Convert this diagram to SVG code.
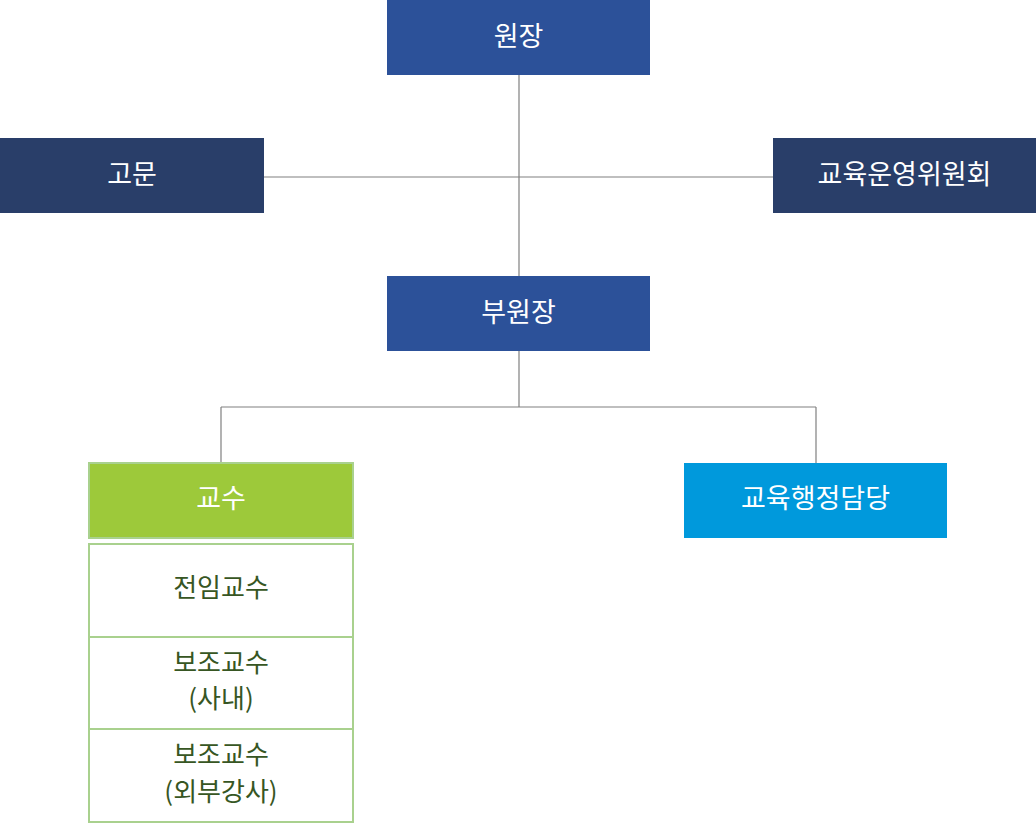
<svg xmlns="http://www.w3.org/2000/svg" width="1036" height="828" viewBox="0 0 1036 828">
<style>
text{font-family:"Noto Sans CJK KR","Noto Sans",sans-serif;font-size:27px;text-anchor:middle;dominant-baseline:central}
.w{fill:#ffffff}
.g{fill:#375623;font-size:26px}
.ln{stroke:#808080;stroke-width:1.2;fill:none}
.sub{fill:#ffffff;stroke:#a9d18e;stroke-width:2}
</style>
<rect width="1036" height="828" fill="#ffffff"/>
<g id="connectors">
<path class="ln" d="M519,75 V276 M264,177 H773"/>
<path class="ln" d="M519,351 V407 M221,407 H816 M221,407 V462 M816,407 V463"/>
</g>
<g id="n-wonjang"><rect x="387" y="0" width="263" height="75" fill="#2c5199"/><text class="w" x="518.5" y="34">원장</text></g>
<g id="n-gomun"><rect x="0" y="138" width="264" height="75" fill="#293e69"/><text class="w" x="132" y="172">고문</text></g>
<g id="n-committee"><rect x="773" y="138" width="263" height="75" fill="#293e69"/><text class="w" x="904.5" y="172">교육운영위원회</text></g>
<g id="n-buwonjang"><rect x="387" y="276" width="263" height="75" fill="#2c5199"/><text class="w" x="518.5" y="310">부원장</text></g>
<g id="n-gyosu"><rect x="89" y="463" width="264" height="75" fill="#9dc93a" stroke="#a9d18e" stroke-width="2"/><text class="w" x="221" y="496">교수</text></g>
<g id="n-admin"><rect x="684" y="463" width="263" height="75" fill="#0099dc"/><text class="w" x="815.5" y="496">교육행정담당</text></g>
<g id="n-jeonim"><rect class="sub" x="89" y="544" width="264" height="93"/><text class="g" x="221" y="585">전임교수</text></g>
<g id="n-bojo1"><rect class="sub" x="89" y="637" width="264" height="92"/><text class="g" x="221" y="660">보조교수</text><text class="g" x="221" y="696">(사내)</text></g>
<g id="n-bojo2"><rect class="sub" x="89" y="729" width="264" height="93"/><text class="g" x="221" y="752">보조교수</text><text class="g" x="221" y="789">(외부강사)</text></g>
</svg>
